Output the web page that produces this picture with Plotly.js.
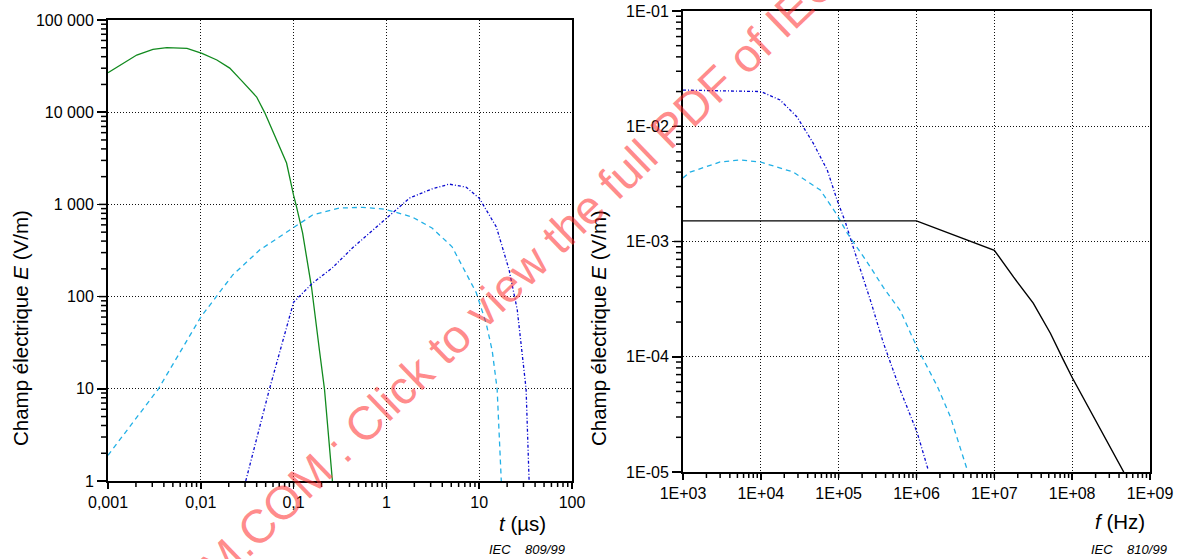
<!DOCTYPE html>
<html><head><meta charset="utf-8">
<script src="https://cdn.plot.ly/plotly-3.0.1.min.js"></script>
<style>html,body{margin:0;padding:0;background:#fff}#chart{width:1191px;height:559px}</style>
</head><body><div id="chart"></div>
<script>
// ---- Left chart: time domain ----
const greenT = [0.001,0.00204,0.00305,0.0043,0.0071,0.0103,0.0149,0.0205,0.0283,0.040,0.0488,0.0656,0.084,0.1,0.106,0.125,0.156,0.19,0.215,0.262];
const greenE = [26800,41700,48100,50100,49300,43500,36800,30100,21300,14600,9900,5000,2810,1250,1000,490,127,26,10,1];
const cyanT = [0.001,0.0035,0.01,0.0152,0.022,0.043,0.103,0.16,0.31,0.55,0.95,1.9,3.1,5.1,7.2,9.3,11.9,13.8,15.6,17.3];
const cyanE = [1.9,10,60,104,171,320,569,767,912,930,890,730,555,347,180,110,51,26,10,1];
const blueT = [0.0305,0.055,0.1,0.16,0.26,0.43,0.95,1.77,3.1,4.75,7.2,10,15.3,21,25.7,29,32,34.5];
const blueE = [1,10,87,140,204,336,675,1170,1470,1660,1540,1170,570,195,72,26,10,1];
const leftXTicks = [0.001,0.01,0.1,1,10,100];
const leftXLabels = ["0,001","0,01","0,1","1","10","100"];
const leftYTicks = [1,10,100,1000,10000,100000];
const leftYLabels = ["1","10","100","1 000","10 000","100 000"];

// ---- Right chart: frequency domain ----
const blueF = [1000,10000,17700,29300,47100,71300,95500,121600,178600,255300,375000,621000,1020000,1410000];
const blueFE = [0.0206,0.020,0.0169,0.0120,0.00713,0.00417,0.00229,0.00148,0.00065,0.00031,0.000132,0.000051,0.000022,0.0000105];
const cyanF = [1000,1230,3000,5400,9800,26000,58000,95500,129000,233000,375000,621000,1020000,1860000,2730000,4470000];
const cyanFE = [0.00356,0.0040,0.0049,0.0051,0.0049,0.00401,0.0028,0.0017,0.00118,0.00066,0.00040,0.00025,0.00012,0.000055,0.000030,0.0000105];
const blackF = [1000,1000000,10000000,17700000,31600000,52500000,77000000,100000000,460000000];
const blackFE = [0.00151,0.00151,0.00084,0.00049,0.000292,0.00016,0.000094,0.000066,0.00001];
const rightXTicks = [1e3,1e4,1e5,1e6,1e7,1e8,1e9];
const rightXLabels = ["1E+03","1E+04","1E+05","1E+06","1E+07","1E+08","1E+09"];
const rightYTicks = [1e-5,1e-4,1e-3,1e-2,1e-1];
const rightYLabels = ["1E-05","1E-04","1E-03","1E-02","1E-01"];

const W = 1191, H = 559;
const px = v => v / W;
const py = v => (H - v) / H;

// minor tick positions (2..9 within each decade of the major ticks)
function minorVals(majors) {
  const out = [];
  for (let i = 0; i < majors.length - 1; i++) for (let k = 2; k <= 9; k++) out.push(majors[i] * k);
  return out;
}

const font = "Liberation Sans, Arial, sans-serif";
function axis(domain, range, tv, tt, anchor, isY) {
  return {
    type: 'log', domain: domain, range: range, anchor: anchor,
    tickmode: 'array', tickvals: tv, ticktext: tt,
    ticks: 'outside', ticklen: isY ? 9 : 6, tickwidth: 1.5, tickcolor: '#000',
    showline: true, linecolor: '#000', linewidth: 2, mirror: true,
    showgrid: true, gridcolor: '#111', gridwidth: 1, griddash: '1px,2px',
    zeroline: false, tickfont: {family: font, size: 16, color: '#000'},
    automargin: false, fixedrange: true
  };
}

const LX = [px(108), px(572)], LY = [py(481), py(20)];
const RX = [px(683), px(1150)], RY = [py(472), py(11)];

// tick marks (major + minor) as paper shapes placed on the log scale of each axis
function tickShapes(majors, range, dom, otherEdge, isY) {
  const out = [];
  const put = (v, len) => {
    const f = dom[0] + (Math.log10(v) - range[0]) / (range[1] - range[0]) * (dom[1] - dom[0]);
    if (isY) out.push({type: 'line', xref: 'paper', yref: 'paper', x0: otherEdge - len / W, x1: otherEdge, y0: f, y1: f, layer: 'above', line: {color: '#000', width: 1.5}});
    else out.push({type: 'line', xref: 'paper', yref: 'paper', y0: otherEdge - len / H, y1: otherEdge, x0: f, x1: f, layer: 'above', line: {color: '#000', width: 1.5}});
  };
  majors.forEach(v => put(v, isY ? 9 : 6));
  minorVals(majors).forEach(v => put(v, isY ? 7 : 6));
  return out;
}
const shapes = [].concat(
  tickShapes(leftXTicks, [-3, 2], LX, LY[0], false),
  tickShapes(leftYTicks, [0, 5], LY, LX[0], true),
  tickShapes(rightXTicks, [3, 9], RX, RY[0], false),
  tickShapes(rightYTicks, [-5, -1], RY, RX[0], true)
);

const traces = [
  {x: greenT, y: greenE, xaxis: 'x', yaxis: 'y', mode: 'lines', line: {color: '#118a1e', width: 1.3}},
  {x: cyanT, y: cyanE, xaxis: 'x', yaxis: 'y', mode: 'lines', line: {color: '#22b0e6', width: 1.3, dash: '5px,4px'}},
  {x: blueT, y: blueE, xaxis: 'x', yaxis: 'y', mode: 'lines', line: {color: '#0a0ad0', width: 1.3, dash: '3px,2px,1px,2px'}},
  {x: blueF, y: blueFE, xaxis: 'x2', yaxis: 'y2', mode: 'lines', line: {color: '#0a0ad0', width: 1.3, dash: '3px,2px,1px,2px'}},
  {x: cyanF, y: cyanFE, xaxis: 'x2', yaxis: 'y2', mode: 'lines', line: {color: '#22b0e6', width: 1.3, dash: '5px,4px'}},
  {x: blackF, y: blackFE, xaxis: 'x2', yaxis: 'y2', mode: 'lines', line: {color: '#000', width: 1.4}}
];

const ann = (text, x, y, opts) => Object.assign({text: text, x: x, y: y, xref: 'paper', yref: 'paper', showarrow: false,
  xanchor: 'center', yanchor: 'middle', font: {family: font, size: 20.5, color: '#000'}}, opts || {});

const layout = {
  width: W, height: H, margin: {l: 0, r: 0, t: 0, b: 0},
  paper_bgcolor: '#fff', plot_bgcolor: '#fff', showlegend: false,
  xaxis: axis(LX, [-3, 2], leftXTicks, leftXLabels, 'y', false),
  yaxis: axis(LY, [0, 5], leftYTicks, leftYLabels, 'x', true),
  xaxis2: axis(RX, [3, 9], rightXTicks, rightXLabels, 'y2', false),
  yaxis2: axis(RY, [-5, -1], rightYTicks, rightYLabels, 'x2', true),
  shapes: shapes,
  annotations: [
    ann('Champ électrique <i>E</i> (V/m)', px(20), py(328), {textangle: -90}),
    ann('Champ électrique <i>E</i> (V/m)', px(598), py(328), {textangle: -90}),
    ann('<i>t</i> (µs)', px(548), py(523), {xanchor: 'right'}),
    ann('<i>f</i> (Hz)', px(1147), py(521), {xanchor: 'right'}),
    ann('<i>IEC&nbsp;&nbsp;&nbsp;&nbsp;809/99</i>', px(567), py(549), {xanchor: 'right', font: {family: font, size: 13, color: '#000'}}),
    ann('<i>IEC&nbsp;&nbsp;&nbsp;&nbsp;810/99</i>', px(1169), py(549), {xanchor: 'right', font: {family: font, size: 13, color: '#000'}}),
    ann('IECNORM.COM : Click to view the full PDF of IEC', px(452), py(338),
      {textangle: -44, font: {family: font, size: 47, color: 'rgba(255,40,40,0.55)'}})
  ]
};

Plotly.newPlot('chart', traces, layout, {displayModeBar: false, staticPlot: true});
</script></body></html>
